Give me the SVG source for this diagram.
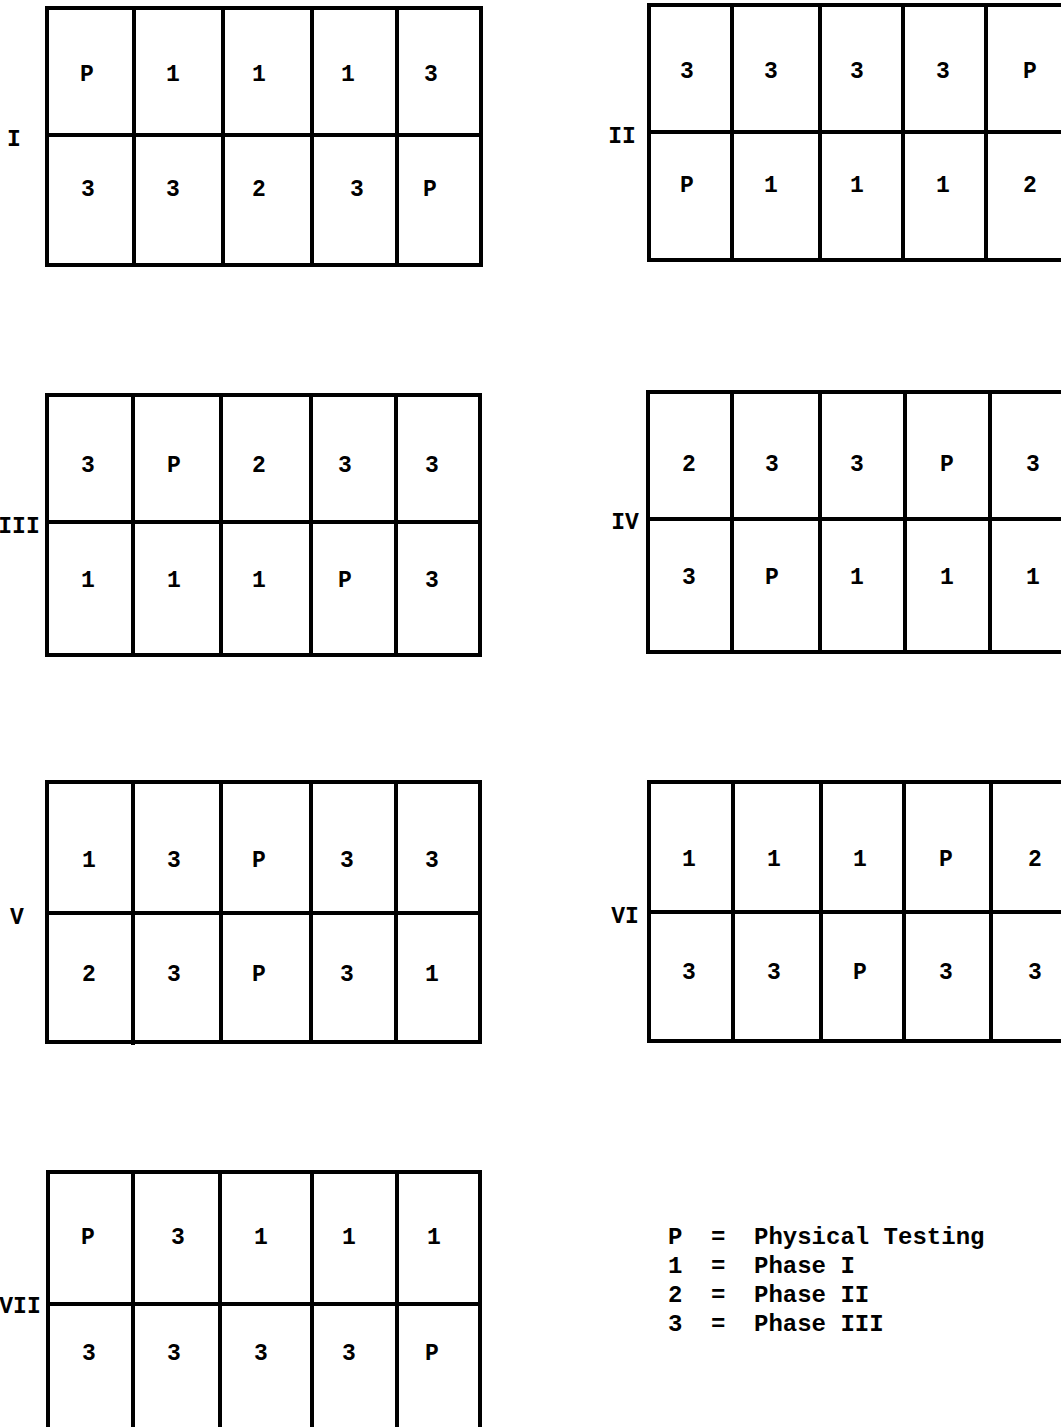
<svg xmlns="http://www.w3.org/2000/svg" width="1061" height="1427" viewBox="0 0 1061 1427">
<style>
.g{fill:none;stroke:#000;stroke-width:4}
.l{stroke:#000;stroke-width:4}
text{font-family:"Liberation Mono","DejaVu Sans Mono",monospace;font-weight:bold;font-size:23px;fill:#000;text-anchor:middle;dominant-baseline:central}
.lg{text-anchor:start;font-size:24px}
</style>
<rect width="1061" height="1427" fill="#fff"/>
<g id="grid1">
<rect class="g" x="47" y="8" width="434" height="257"/>
<line class="l" x1="47" y1="135" x2="481" y2="135"/>
<line class="l" x1="134" y1="8" x2="134" y2="265"/>
<line class="l" x1="223" y1="8" x2="223" y2="265"/>
<line class="l" x1="312" y1="8" x2="312" y2="265"/>
<line class="l" x1="397" y1="8" x2="397" y2="265"/>
<text x="14" y="140">I</text>
<text x="87" y="75">P</text><text x="173" y="75">1</text><text x="259" y="75">1</text><text x="348" y="75">1</text><text x="431" y="75">3</text>
<text x="88" y="190">3</text><text x="173" y="190">3</text><text x="259" y="190">2</text><text x="357" y="190">3</text><text x="430" y="190">P</text>
</g>
<g id="grid2">
<rect class="g" x="649" y="5" width="430" height="255"/>
<line class="l" x1="649" y1="132" x2="1079" y2="132"/>
<line class="l" x1="732" y1="5" x2="732" y2="260"/>
<line class="l" x1="820" y1="5" x2="820" y2="260"/>
<line class="l" x1="903" y1="5" x2="903" y2="260"/>
<line class="l" x1="986" y1="5" x2="986" y2="260"/>
<text x="622" y="137">II</text>
<text x="687" y="72">3</text><text x="771" y="72">3</text><text x="857" y="72">3</text><text x="943" y="72">3</text><text x="1030" y="72">P</text>
<text x="687" y="186">P</text><text x="771" y="186">1</text><text x="857" y="186">1</text><text x="943" y="186">1</text><text x="1030" y="186">2</text>
</g>
<g id="grid3">
<rect class="g" x="47" y="395" width="433" height="260"/>
<line class="l" x1="47" y1="522" x2="480" y2="522"/>
<line class="l" x1="133" y1="395" x2="133" y2="655"/>
<line class="l" x1="221" y1="395" x2="221" y2="655"/>
<line class="l" x1="311" y1="395" x2="311" y2="655"/>
<line class="l" x1="396" y1="395" x2="396" y2="655"/>
<text x="19" y="527">III</text>
<text x="88" y="466">3</text><text x="174" y="466">P</text><text x="259" y="466">2</text><text x="345" y="466">3</text><text x="432" y="466">3</text>
<text x="88" y="581">1</text><text x="174" y="581">1</text><text x="259" y="581">1</text><text x="345" y="581">P</text><text x="432" y="581">3</text>
</g>
<g id="grid4">
<rect class="g" x="648" y="392" width="431" height="260"/>
<line class="l" x1="648" y1="519" x2="1079" y2="519"/>
<line class="l" x1="732" y1="392" x2="732" y2="652"/>
<line class="l" x1="820" y1="392" x2="820" y2="652"/>
<line class="l" x1="905" y1="392" x2="905" y2="652"/>
<line class="l" x1="990" y1="392" x2="990" y2="652"/>
<text x="625" y="523">IV</text>
<text x="689" y="465">2</text><text x="772" y="465">3</text><text x="857" y="465">3</text><text x="947" y="465">P</text><text x="1033" y="465">3</text>
<text x="689" y="578">3</text><text x="772" y="578">P</text><text x="857" y="578">1</text><text x="947" y="578">1</text><text x="1033" y="578">1</text>
</g>
<g id="grid5">
<rect class="g" x="47" y="782" width="433" height="260"/>
<line class="l" x1="47" y1="913" x2="480" y2="913"/>
<line class="l" x1="133" y1="782" x2="133" y2="1045"/>
<line class="l" x1="221" y1="782" x2="221" y2="1042"/>
<line class="l" x1="311" y1="782" x2="311" y2="1042"/>
<line class="l" x1="396" y1="782" x2="396" y2="1042"/>
<text x="17" y="918">V</text>
<text x="89" y="861">1</text><text x="174" y="861">3</text><text x="259" y="861">P</text><text x="347" y="861">3</text><text x="432" y="861">3</text>
<text x="89" y="975">2</text><text x="174" y="975">3</text><text x="259" y="975">P</text><text x="347" y="975">3</text><text x="432" y="975">1</text>
</g>
<g id="grid6">
<rect class="g" x="649" y="782" width="430" height="259"/>
<line class="l" x1="649" y1="912" x2="1079" y2="912"/>
<line class="l" x1="733" y1="782" x2="733" y2="1041"/>
<line class="l" x1="821" y1="782" x2="821" y2="1041"/>
<line class="l" x1="904" y1="782" x2="904" y2="1041"/>
<line class="l" x1="991" y1="782" x2="991" y2="1041"/>
<text x="625" y="917">VI</text>
<text x="689" y="860">1</text><text x="774" y="860">1</text><text x="860" y="860">1</text><text x="946" y="860">P</text><text x="1035" y="860">2</text>
<text x="689" y="973">3</text><text x="774" y="973">3</text><text x="860" y="973">P</text><text x="946" y="973">3</text><text x="1035" y="973">3</text>
</g>
<g id="grid7">
<rect class="g" x="48" y="1172" width="432" height="280"/>
<line class="l" x1="48" y1="1304" x2="480" y2="1304"/>
<line class="l" x1="133" y1="1172" x2="133" y2="1452"/>
<line class="l" x1="220" y1="1172" x2="220" y2="1452"/>
<line class="l" x1="312" y1="1172" x2="312" y2="1452"/>
<line class="l" x1="397" y1="1172" x2="397" y2="1452"/>
<text x="20" y="1307">VII</text>
<text x="88" y="1238">P</text><text x="178" y="1238">3</text><text x="261" y="1238">1</text><text x="349" y="1238">1</text><text x="434" y="1238">1</text>
<text x="89" y="1354">3</text><text x="174" y="1354">3</text><text x="261" y="1354">3</text><text x="349" y="1354">3</text><text x="432" y="1354">P</text>
</g>
<g id="legend">
<text class="lg" x="668" y="1237">P</text><text class="lg" x="711" y="1237">=</text><text class="lg" x="754" y="1237">Physical Testing</text>
<text class="lg" x="668" y="1266">1</text><text class="lg" x="711" y="1266">=</text><text class="lg" x="754" y="1266">Phase I</text>
<text class="lg" x="668" y="1295">2</text><text class="lg" x="711" y="1295">=</text><text class="lg" x="754" y="1295">Phase II</text>
<text class="lg" x="668" y="1324">3</text><text class="lg" x="711" y="1324">=</text><text class="lg" x="754" y="1324">Phase III</text>
</g>
<g id="connectors"></g>
</svg>
